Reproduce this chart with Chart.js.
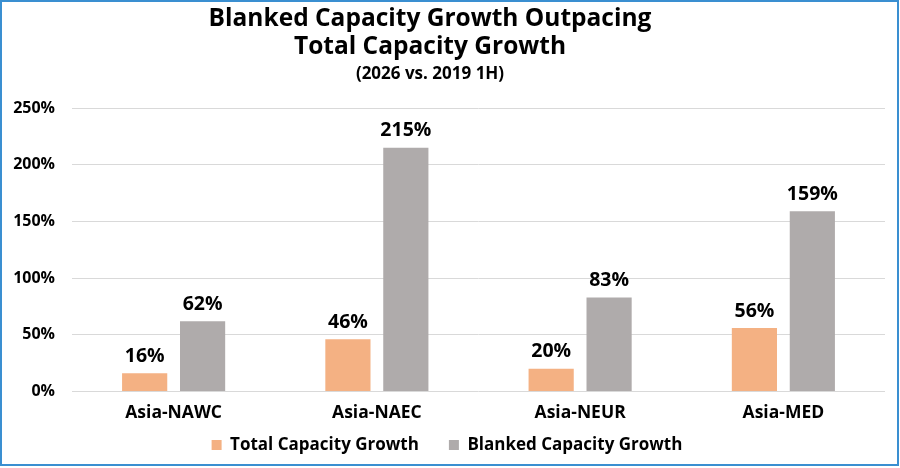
<!DOCTYPE html>
<html lang="en">
<head>
  <meta charset="UTF-8">
  <title>Blanked Capacity Growth Outpacing Total Capacity Growth</title>
  <style>
    html, body { margin: 0; padding: 0; background: #ffffff; }
    #wrap { position: absolute; left: 0; top: 0; width: 900px; height: 468px; }
    #frame {
      position: absolute; left: 0; top: 0; width: 899px; height: 466px;
      box-sizing: border-box; border: 2px solid #3a8fd1; pointer-events: none;
    }
  </style>
</head>
<body>
  <div id="wrap">
    <canvas id="myChart"></canvas>
  </div>
  <div id="frame"></div>

  <script src="https://cdn.jsdelivr.net/npm/chart.js"></script>
  <script>
    const lanes = ['Asia-NAWC', 'Asia-NAEC', 'Asia-NEUR', 'Asia-MED'];
    const totalGrowth = [16, 46, 20, 56];
    const blankedGrowth = [62, 215, 83, 159];
    const yTicks = [0, 50, 100, 150, 200, 250];

    const FONT = '"Open Sans", Lato, sans-serif';
    const LEGEND_TRIM = 29;

    // title block (drawn on the canvas so it can sit off-centre like the original)
    const titlePlugin = {
      id: 'titleBlock',
      afterDraw(chart) {
        const ctx = chart.ctx;
        ctx.save();
        ctx.fillStyle = '#000';
        ctx.textAlign = 'center';
        ctx.textBaseline = 'middle';
        ctx.font = 'bold 24.5px ' + FONT;
        ctx.fillText('Blanked Capacity Growth Outpacing', 430, 19);
        ctx.fillText('Total Capacity Growth', 430, 47);
        ctx.font = 'bold 17px ' + FONT;
        ctx.fillText('(2026 vs. 2019 1H)', 430, 74);
        ctx.restore();
      }
    };

    // value labels above each bar
    const valueLabels = {
      id: 'valueLabels',
      afterDatasetsDraw(chart) {
        const ctx = chart.ctx;
        ctx.save();
        ctx.fillStyle = '#000';
        ctx.textAlign = 'center';
        ctx.textBaseline = 'middle';
        ctx.font = 'bold 19.5px ' + FONT;
        chart.data.datasets.forEach((ds, i) => {
          chart.getDatasetMeta(i).data.forEach((bar, j) => {
            ctx.fillText(ds.data[j] + '%', bar.x, bar.y - 17);
          });
        });
        ctx.restore();
      }
    };

    // wide gap between legend items without a tall legend box:
    // the legend reports a shorter box to the layout, then its top is pulled back up
    const legendSpacing = {
      id: 'legendSpacing',
      beforeLayout(chart) {
        const lg = chart.legend;
        if (lg && !lg._trimmed) {
          const fit = lg.fit;
          lg.fit = function () {
            fit.call(this);
            this.height -= LEGEND_TRIM;
          };
          lg._trimmed = true;
        }
      },
      afterLayout(chart) {
        chart.legend.top -= LEGEND_TRIM;
      }
    };

    new Chart(document.getElementById('myChart'), {
      type: 'bar',
      data: {
        labels: lanes,
        datasets: [
          {
            label: 'Total Capacity Growth',
            data: totalGrowth,
            backgroundColor: '#f4b183',
            categoryPercentage: 0.57,
            barPercentage: 0.78
          },
          {
            label: 'Blanked Capacity Growth',
            data: blankedGrowth,
            backgroundColor: '#afabab',
            categoryPercentage: 0.57,
            barPercentage: 0.78
          }
        ]
      },
      options: {
        responsive: true,
        maintainAspectRatio: false,
        animation: false,
        layout: { padding: { left: 9, right: 15, top: 108, bottom: 4.5 } },
        plugins: {
          legend: {
            position: 'bottom',
            labels: {
              color: '#000',
              font: { family: FONT, size: 17, weight: 'bold' },
              boxWidth: 10,
              boxHeight: 10,
              padding: 30
            }
          },
          tooltip: { enabled: false }
        },
        scales: {
          x: {
            grid: { display: false, drawTicks: false },
            border: { display: false },
            ticks: {
              color: '#000',
              font: { family: FONT, size: 17.5, weight: 'bold' },
              padding: 11.5
            }
          },
          y: {
            min: yTicks[0],
            max: yTicks[yTicks.length - 1],
            afterBuildTicks(axis) {
              axis.ticks = yTicks.map(v => ({ value: v }));
            },
            afterFit(axis) {
              axis.width = 63;
            },
            grid: { color: '#d9d9d9', drawTicks: false },
            border: { display: false },
            ticks: {
              color: '#000',
              font: { family: FONT, size: 16, weight: 'bold' },
              padding: 17,
              callback: v => v + '%'
            }
          }
        }
      },
      plugins: [titlePlugin, valueLabels, legendSpacing]
    });
  </script>
</body>
</html>
